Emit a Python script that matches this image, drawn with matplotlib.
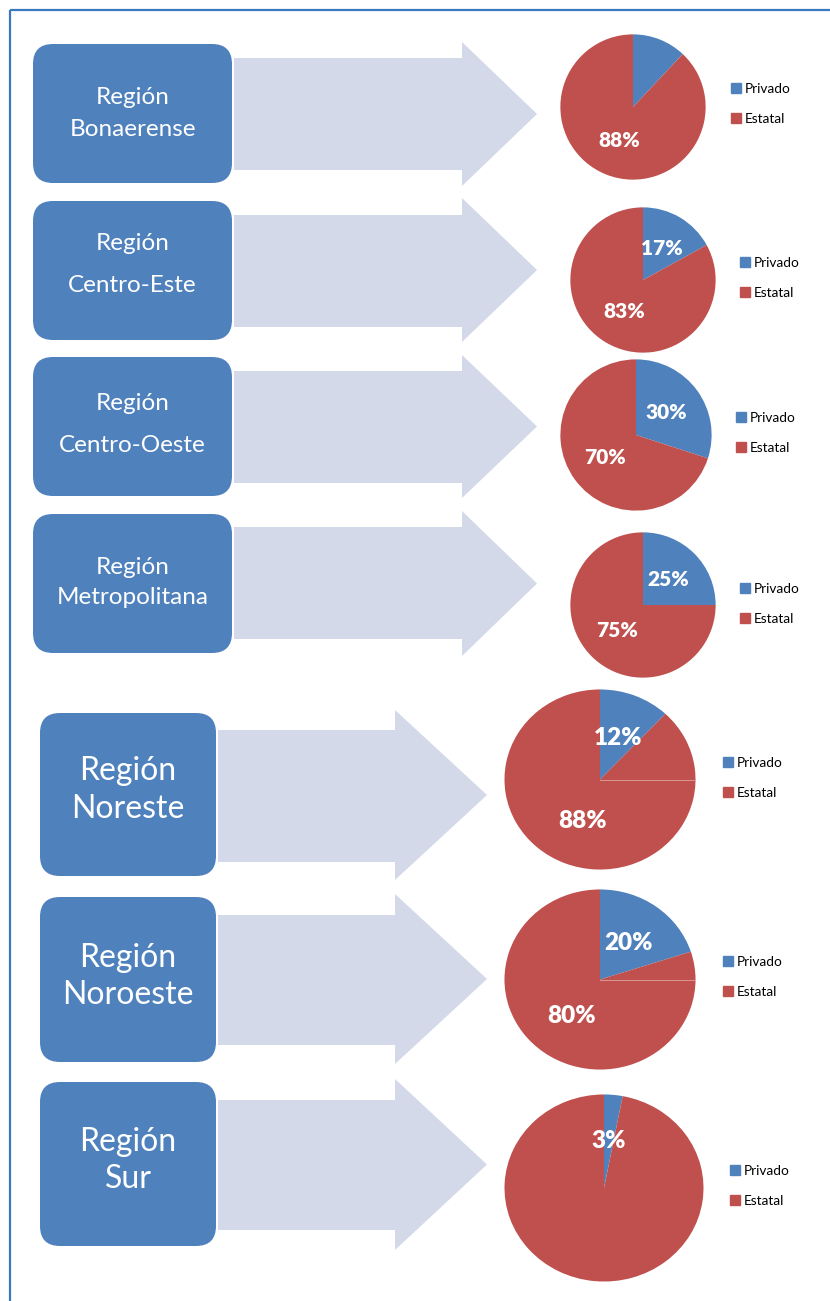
import matplotlib
matplotlib.use("Agg")
import matplotlib.pyplot as plt
from matplotlib.patches import FancyBboxPatch, Polygon, Rectangle
from matplotlib.lines import Line2D

plt.rcParams['font.family'] = ['Lato', 'DejaVu Sans']

# ---- data
regions = [["Región", "Bonaerense"], ["Región", "Centro-Este"], ["Región", "Centro-Oeste"],
           ["Región", "Metropolitana"], ["Región", "Noreste"], ["Región", "Noroeste"],
           ["Región", "Sur"]]
privado = [12, 17, 30, 25, 12, 20, 3]
estatal = [88, 83, 70, 75, 88, 80, 97]
show_priv = [False, True, True, True, True, True, True]
show_est = [True, True, True, True, True, True, False]
legend_labels = ["Privado", "Estatal"]

# ---- layout (pixels, y downward)
W, H = 830, 1301
boxes = [(33, 44, 232, 183), (33, 201, 232, 340), (33, 357, 232, 496), (33, 514, 232, 653),
         (40, 713, 216, 876), (40, 897, 216, 1062), (40, 1082, 216, 1246)]
line_y = [(98, 129), (244, 286), (404, 446), (567, 598), (771, 809), (958, 995), (1142, 1179)]
# x0, xhead, tip, shaft top, shaft bottom, head top, head bottom
arrows = [(234, 462, 537, 58, 170, 42, 186), (234, 462, 537, 215, 327, 198, 342),
          (234, 462, 537, 371, 483, 355, 498), (234, 462, 537, 527, 639, 511, 656),
          (218, 395, 487, 730, 862, 710, 880), (218, 395, 487, 915, 1045, 894, 1064),
          (218, 395, 487, 1100, 1230, 1079, 1250)]
pies = [(560, 34, 706, 180), (570, 207, 716, 353), (560, 359, 712, 511), (570, 532, 716, 678),
        (504, 689, 696, 870), (504, 889, 696, 1070), (504, 1094, 704, 1282)]
legends = [(732, 104), (741, 278), (737, 433), (741, 604), (724, 778), (724, 977), (731, 1186)]

blue = "#4f81bd"
red = "#c0504d"
arrow_c = "#d3d9e8"

fig = plt.figure(figsize=(W / 100, H / 100), dpi=100)
bg = fig.add_axes([0, 0, 1, 1])
bg.set_xlim(0, W)
bg.set_ylim(H, 0)
bg.axis("off")

# border
bg.add_patch(Rectangle((10, 10), W, H, fill=False, edgecolor="#3a78c0", lw=1.6))

for i in range(len(regions)):
    x0, y0, x1, y1 = boxes[i]
    bg.add_patch(FancyBboxPatch((x0, y0), x1 - x0, y1 - y0,
                                boxstyle="round,pad=0,rounding_size=20",
                                fc=blue, ec="none"))
    fs = 17.5 if i < 4 else 23
    cx = (x0 + x1) / 2
    for txt, ty in zip(regions[i], line_y[i]):
        bg.text(cx, ty, txt, color="white", fontsize=fs, ha="center", va="center")

    a = arrows[i]
    pts = [(a[0], a[3]), (a[1], a[3]), (a[1], a[5]), (a[2], (a[5] + a[6]) / 2),
           (a[1], a[6]), (a[1], a[4]), (a[0], a[4])]
    bg.add_patch(Polygon(pts, closed=True, fc=arrow_c, ec="none"))

    px0, py0, px1, py1 = pies[i]
    ax = fig.add_axes([px0 / W, 1 - py1 / H, (px1 - px0) / W, (py1 - py0) / H])
    wedges, texts, autotexts = ax.pie(
        [privado[i], estatal[i]], colors=[blue, red], startangle=90, counterclock=False,
        radius=1, autopct="%d%%", pctdistance=0.5,
        wedgeprops=dict(linewidth=0),
        textprops=dict(color="white", fontweight="heavy", fontsize=15 if i < 4 else 17.5))
    autotexts[0].set_text("%d%%" % privado[i])
    autotexts[1].set_text("%d%%" % estatal[i])
    autotexts[0].set_visible(show_priv[i])
    autotexts[1].set_visible(show_est[i])
    if i in (4, 5):
        ax.plot([0, 1], [0, 0], color="#dca4a2", lw=0.6)
    ax.set_aspect("auto")
    ax.set_xlim(-1.005, 1.005)
    ax.set_ylim(-1.005, 1.005)
    ax.axis("off")

    handles = [Line2D([], [], marker="s", ls="none", color=c, markersize=6.5) for c in (blue, red)]
    lx, ly = legends[i]
    ax.legend(handles, legend_labels, loc="center left", bbox_to_anchor=(lx / W, 1 - ly / H),
              bbox_transform=fig.transFigure, frameon=False, fontsize=9.8,
              handlelength=0.6, handletextpad=0.3, labelspacing=1.35,
              borderpad=0, borderaxespad=0)

fig.savefig("out.png", dpi=100)
